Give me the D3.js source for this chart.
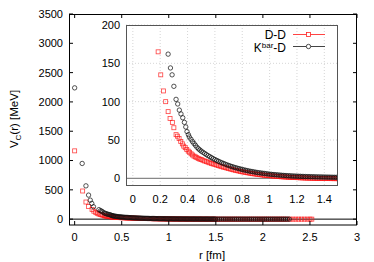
<!DOCTYPE html>
<html>
<head>
<meta charset="utf-8">
<script src="https://cdn.jsdelivr.net/npm/d3@7"></script>
<style>
  body { margin: 0; background: #fff; }
  text { font-family: "Liberation Sans", Arial, sans-serif; fill: #000; }
</style>
</head>
<body>
<svg id="canvas" width="374" height="262"></svg>
<script>
/********** Data **********/
// short-range points, D-D (red squares)
var rHeadDD = [0.00, 0.085, 0.12, 0.147, 0.185, 0.204, 0.224, 0.240, 0.258, 0.272, 0.289, 0.300, 0.316, 0.326, 0.338,
  0.350, 0.362, 0.372, 0.383, 0.394, 0.405, 0.415, 0.426, 0.436, 0.447, 0.457, 0.468, 0.478, 0.490];
var vHeadDD = [1165, 480, 292, 215, 165, 135, 114, 100, 87, 78, 73, 66, 57, 55, 52,
  48, 45, 42, 40, 37.5, 35.5, 34, 32, 30.5, 29, 28, 27, 26, 25];

// short-range points, Kbar-D (black circles)
var rHeadKD = [0.00, 0.080, 0.120, 0.148, 0.166, 0.182, 0.200, 0.258, 0.275, 0.287, 0.300, 0.316, 0.328, 0.340, 0.352,
  0.365, 0.377, 0.387, 0.396, 0.406, 0.413, 0.425, 0.436, 0.447, 0.458, 0.469, 0.480, 0.490];
var vHeadKD = [2240, 950, 568, 410, 324, 268, 212, 162, 144, 135, 120, 103, 97, 89, 84,
  79, 73, 67, 61, 57, 54, 51, 48, 45.5, 43, 40.5, 38.5, 37];

// dense middle range, shared r values
var rMid = [0.5000, 0.5125, 0.5250, 0.5375, 0.5500, 0.5625, 0.5750, 0.5875, 0.6000, 0.6125, 0.6250, 0.6375,
  0.6500, 0.6625, 0.6750, 0.6875, 0.7000, 0.7125, 0.7250, 0.7375, 0.7500, 0.7625, 0.7750, 0.7875,
  0.8000, 0.8125, 0.8250, 0.8375, 0.8500, 0.8625, 0.8750, 0.8875, 0.9000, 0.9125, 0.9250, 0.9375,
  0.9500, 0.9625, 0.9750, 0.9875, 1.0000, 1.0125, 1.0250, 1.0375, 1.0500, 1.0625, 1.0750, 1.0875,
  1.1000, 1.1125, 1.1250, 1.1375, 1.1500, 1.1625, 1.1750, 1.1875, 1.2000, 1.2125, 1.2250, 1.2375,
  1.2500, 1.2625, 1.2750, 1.2875, 1.3000, 1.3125, 1.3250, 1.3375, 1.3500, 1.3625, 1.3750, 1.3875,
  1.4000, 1.4125, 1.4250, 1.4375, 1.4500, 1.4625, 1.4750, 1.4875, 1.5000];
var vMidDD = [24.5, 23.5, 22.6, 21.8, 21, 20.2, 19.4, 18.7, 18, 17.3, 16.6, 15.9,
  15.2, 14.6, 14, 13.4, 12.8, 12.2, 11.6, 11, 10.5, 10, 9.5, 9,
  8.5, 8.1, 7.7, 7.3, 6.9, 6.5, 6.1, 5.8, 5.5, 5.2, 4.9, 4.6,
  4.3, 4.0, 3.8, 3.6, 3.4, 3.2, 3.0, 2.8, 2.6, 2.4, 2.2, 2.0,
  1.9, 1.7, 1.6, 1.4, 1.3, 1.2, 1.1, 1.0, 0.9, 0.8, 0.7, 0.6,
  0.5, 0.4, 0.3, 0.25, 0.2, 0.1, 0.05, 0, -0.05, -0.1, -0.15, -0.2,
  -0.25, -0.3, -0.3, -0.35, -0.4, -0.4, -0.45, -0.45, -0.5];
var vMidKD = [35.5, 34, 32.5, 31, 29.6, 28.3, 27, 25.7, 24.5, 23.4, 22.3, 21.3,
  20.3, 19.4, 18.5, 17.6, 16.8, 16, 15.3, 14.6, 13.9, 13.3, 12.7, 12.1,
  11.5, 11, 10.5, 10, 9.5, 9.1, 8.7, 8.3, 7.9, 7.5, 7.2, 6.9,
  6.6, 6.3, 6.0, 5.7, 5.4, 5.2, 5.0, 4.8, 4.6, 4.4, 4.2, 4.0,
  3.8, 3.7, 3.5, 3.4, 3.3, 3.1, 3.0, 2.9, 2.8, 2.7, 2.6, 2.5,
  2.4, 2.3, 2.25, 2.2, 2.1, 2.05, 2.0, 1.9, 1.85, 1.8, 1.75, 1.7,
  1.65, 1.6, 1.55, 1.5, 1.45, 1.4, 1.35, 1.3, 1.25];

// long-range tails
var rTailDD = [1.52, 1.54, 1.56, 1.58, 1.60, 1.62, 1.64, 1.66, 1.68, 1.70, 1.72, 1.74, 1.76, 1.78, 1.80, 1.82,
  1.84, 1.86, 1.88, 1.90, 1.92, 1.94, 1.96, 1.98, 2.00, 2.02, 2.04, 2.06, 2.08, 2.10, 2.12, 2.14, 2.16, 2.18,
  2.20, 2.22, 2.24, 2.26, 2.29, 2.32, 2.35, 2.38, 2.41, 2.44, 2.47, 2.50, 2.52];
var vTailDD = [-0.5, -0.5, -0.5, -0.5, -0.4, -0.4, -0.4, -0.4, -0.4, -0.3, -0.3, -0.3, -0.3, -0.3, -0.3, -0.3,
  -0.2, -0.2, -0.2, -0.2, -0.2, -0.2, -0.2, -0.2, -0.1, -0.1, -0.1, -0.1, -0.1, -0.1, -0.1, -0.1, -0.1, -0.1,
  0, 0, 0, 0, 0, 0, 0, 0, 0, 0, 0, 0, 0];
var rTailKD = [1.52, 1.54, 1.56, 1.58, 1.60, 1.62, 1.64, 1.66, 1.68, 1.70, 1.72, 1.74, 1.76, 1.78, 1.80, 1.82,
  1.84, 1.86, 1.88, 1.90, 1.92, 1.94, 1.96, 1.98, 2.00, 2.02, 2.04, 2.06, 2.08, 2.10, 2.12, 2.14, 2.16, 2.18,
  2.20, 2.22, 2.24, 2.26, 2.28];
var vTailKD = [1.2, 1.15, 1.1, 1.05, 1.0, 0.95, 0.9, 0.85, 0.8, 0.75, 0.7, 0.7, 0.65, 0.6, 0.6, 0.55,
  0.5, 0.5, 0.45, 0.45, 0.4, 0.4, 0.35, 0.35, 0.3, 0.3, 0.3, 0.25, 0.25, 0.25, 0.2, 0.2, 0.2, 0.2,
  0.15, 0.15, 0.15, 0.1, 0.1];

var seriesNames = ["D-D", "K", "bar", "-D"];

// tick values
var mainXTicks = [0, 0.5, 1, 1.5, 2, 2.5, 3];
var mainYTicks = [0, 500, 1000, 1500, 2000, 2500, 3000, 3500];
var insetXTicks = [0, 0.2, 0.4, 0.6, 0.8, 1, 1.2, 1.4];
var insetYTicks = [0, 50, 100, 150, 200];

/********** Initialisation **********/
var svg = d3.select("#canvas");

var mx = d3.scaleLinear().domain([-0.06, 3]).range([69, 357]);
var my = d3.scaleLinear().domain([-100, 3500]).range([225, 14]);
var ix = d3.scaleLinear().domain([-0.05, 1.5]).range([126, 338]);
var iy = d3.scaleLinear().domain([-10, 200]).range([186, 25]);

var defs = svg.append("defs");
defs.append("clipPath").attr("id", "mainClip").append("rect")
    .attr("x", 69).attr("y", 14).attr("width", 288).attr("height", 211);
defs.append("clipPath").attr("id", "insetClip").append("rect")
    .attr("x", 126).attr("y", 25).attr("width", 212).attr("height", 161);

var dd = d3.zip(rHeadDD.concat(rMid, rTailDD), vHeadDD.concat(vMidDD, vTailDD));
var kd = d3.zip(rHeadKD.concat(rMid, rTailKD), vHeadKD.concat(vMidKD, vTailKD));

function drawSquares(g, data, sx, sy) {
    g.selectAll("rect.pt")
        .data(data)
        .enter()
        .append("rect")
        .attr("class", "pt")
        .attr("x", function(d) { return sx(d[0]) - 2; })
        .attr("y", function(d) { return sy(d[1]) - 2; })
        .attr("width", 4)
        .attr("height", 4)
        .attr("fill", "none")
        .attr("stroke", "#f11")
        .attr("stroke-opacity", 0.8)
        .attr("stroke-width", 0.8);
}

function drawCircles(g, data, sx, sy) {
    g.selectAll("circle.pt")
        .data(data)
        .enter()
        .append("circle")
        .attr("class", "pt")
        .attr("cx", function(d) { return sx(d[0]); })
        .attr("cy", function(d) { return sy(d[1]); })
        .attr("r", 2.2)
        .attr("fill", "none")
        .attr("stroke", "#111")
        .attr("stroke-opacity", 0.85)
        .attr("stroke-width", 0.85);
}

/********** Main plot **********/
var main = svg.append("g");

// zero line
main.append("line")
    .attr("x1", 69).attr("x2", 357)
    .attr("y1", my(0)).attr("y2", my(0))
    .attr("stroke", "#000").attr("stroke-width", 1);

var mainPts = main.append("g").attr("clip-path", "url(#mainClip)");
drawSquares(mainPts.append("g"), dd, mx, my);
drawCircles(mainPts.append("g"), kd, mx, my);

// ticks (inward, mirrored)
main.append("g").selectAll("line")
    .data(mainXTicks).enter().append("line")
    .attr("x1", function(d) { return mx(d); }).attr("x2", function(d) { return mx(d); })
    .attr("y1", 225).attr("y2", 221)
    .attr("stroke", "#000");
main.append("g").selectAll("line")
    .data(mainXTicks).enter().append("line")
    .attr("x1", function(d) { return mx(d); }).attr("x2", function(d) { return mx(d); })
    .attr("y1", 14).attr("y2", 18)
    .attr("stroke", "#000");
main.append("g").selectAll("line")
    .data(mainYTicks).enter().append("line")
    .attr("x1", 69).attr("x2", 73)
    .attr("y1", function(d) { return my(d); }).attr("y2", function(d) { return my(d); })
    .attr("stroke", "#000");
main.append("g").selectAll("line")
    .data(mainYTicks).enter().append("line")
    .attr("x1", 357).attr("x2", 353)
    .attr("y1", function(d) { return my(d); }).attr("y2", function(d) { return my(d); })
    .attr("stroke", "#000");

main.append("rect")
    .attr("x", 69.5).attr("y", 14.5).attr("width", 287).attr("height", 210.5)
    .attr("fill", "none").attr("stroke", "#000").attr("stroke-width", 1);

main.append("g").selectAll("text")
    .data(mainXTicks).enter().append("text")
    .attr("x", function(d) { return mx(d); })
    .attr("y", 241)
    .attr("text-anchor", "middle")
    .attr("font-size", 11)
    .text(function(d) { return d; });
main.append("g").selectAll("text")
    .data(mainYTicks).enter().append("text")
    .attr("x", 63)
    .attr("y", function(d) { return my(d); })
    .attr("dy", "0.36em")
    .attr("text-anchor", "end")
    .attr("font-size", 11)
    .text(function(d) { return d; });

// axis titles
main.append("text")
    .attr("x", 212).attr("y", 259)
    .attr("text-anchor", "middle")
    .attr("font-size", 11.5)
    .text("r [fm]");

var yt = main.append("text")
    .attr("transform", "translate(18,119) rotate(-90)")
    .attr("text-anchor", "middle")
    .attr("font-size", 11.5);
yt.append("tspan").text("V");
yt.append("tspan").attr("font-size", 8).attr("dy", 3).text("C");
yt.append("tspan").attr("dy", -3).text("(r) [MeV]");

/********** Inset **********/
var inset = svg.append("g");

inset.append("rect")
    .attr("x", 126).attr("y", 25).attr("width", 212).attr("height", 161)
    .attr("fill", "#fff");

// grid
inset.append("g").selectAll("line")
    .data(insetXTicks).enter().append("line")
    .attr("x1", function(d) { return ix(d); }).attr("x2", function(d) { return ix(d); })
    .attr("y1", 25).attr("y2", 186)
    .attr("stroke", "#bbb").attr("stroke-width", 0.6).attr("stroke-dasharray", "1,2");
inset.append("g").selectAll("line")
    .data(insetYTicks.filter(function(d) { return d > 0; })).enter().append("line")
    .attr("x1", 126).attr("x2", 338)
    .attr("y1", function(d) { return iy(d); }).attr("y2", function(d) { return iy(d); })
    .attr("stroke", "#bbb").attr("stroke-width", 0.6).attr("stroke-dasharray", "1,2");

// zero line
inset.append("line")
    .attr("x1", 126).attr("x2", 338)
    .attr("y1", iy(0)).attr("y2", iy(0))
    .attr("stroke", "#888").attr("stroke-width", 1.3);

var insetPts = inset.append("g").attr("clip-path", "url(#insetClip)");
drawSquares(insetPts.append("g"), dd, ix, iy);
drawCircles(insetPts.append("g"), kd, ix, iy);

inset.append("rect")
    .attr("x", 126.5).attr("y", 25.5).attr("width", 211).attr("height", 160)
    .attr("fill", "none").attr("stroke", "#555").attr("stroke-width", 1);

inset.append("g").selectAll("text")
    .data(insetXTicks).enter().append("text")
    .attr("x", function(d) { return ix(d); })
    .attr("y", 203)
    .attr("text-anchor", "middle")
    .attr("font-size", 11)
    .text(function(d) { return d; });
inset.append("g").selectAll("text")
    .data(insetYTicks).enter().append("text")
    .attr("x", 120)
    .attr("y", function(d) { return iy(d); })
    .attr("dy", "0.36em")
    .attr("text-anchor", "end")
    .attr("font-size", 11)
    .text(function(d) { return d; });

/********** Legend **********/
var legend = svg.append("g");

legend.append("text")
    .attr("x", 286).attr("y", 39)
    .attr("text-anchor", "end")
    .attr("font-size", 12)
    .text(seriesNames[0]);
legend.append("line")
    .attr("x1", 293).attr("x2", 325).attr("y1", 34.5).attr("y2", 34.5)
    .attr("stroke", "#f44").attr("stroke-width", 1);
legend.append("rect")
    .attr("x", 306.5).attr("y", 32.5).attr("width", 4).attr("height", 4)
    .attr("fill", "#fff").attr("stroke", "#f22").attr("stroke-width", 0.8);

var kt = legend.append("text")
    .attr("x", 286).attr("y", 51.5)
    .attr("text-anchor", "end")
    .attr("font-size", 12);
kt.append("tspan").text(seriesNames[1]);
kt.append("tspan").attr("font-size", 8).attr("dy", -4).text(seriesNames[2]);
kt.append("tspan").attr("dy", 4).text(seriesNames[3]);
legend.append("line")
    .attr("x1", 293).attr("x2", 325).attr("y1", 46.5).attr("y2", 46.5)
    .attr("stroke", "#444").attr("stroke-width", 1);
legend.append("circle")
    .attr("cx", 308.5).attr("cy", 46.5).attr("r", 2.2)
    .attr("fill", "#fff").attr("stroke", "#222").attr("stroke-width", 0.8);
</script>
</body>
</html>
